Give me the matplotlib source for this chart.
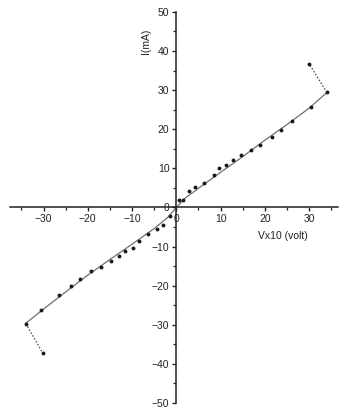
import matplotlib

matplotlib.use("Agg")
import matplotlib.pyplot as plt
from matplotlib.ticker import MultipleLocator

plt.rcParams["font.family"] = ["Liberation Sans", "DejaVu Sans"]

# measured points (V x10, I in mA)
pos_v = [0.7, 1.6, 2.9, 4.3, 6.3, 8.4, 9.7, 11.2, 12.7, 14.6, 16.9, 18.9,
         21.6, 23.6, 26.1, 30.3, 34.0]
pos_i = [1.8, 2.0, 4.1, 5.2, 6.3, 8.2, 10.2, 10.9, 12.2, 13.3, 14.8, 16.0,
         17.9, 19.7, 22.0, 25.8, 29.4]
neg_v = [-1.4, -3.1, -4.3, -6.3, -8.5, -9.8, -11.5, -13.0, -14.8, -17.0,
         -19.2, -21.8, -23.8, -26.4, -30.6, -34.0]
neg_i = [-2.2, -4.4, -5.5, -6.7, -8.5, -10.4, -11.2, -12.5, -13.6, -15.1,
         -16.3, -18.4, -20.1, -22.3, -26.1, -29.7]
# outlier points at the ends, joined by dotted lines
out_v = [30.0, -30.2]
out_i = [36.7, -37.2]

# fitted curve
fit_v = [-34, -30, -25, -20, -15, -10, -5, -2, 0, 2, 5, 10, 15, 20, 25, 30, 34]
fit_i = [-29.6, -26.0, -21.6, -17.3, -13.3, -9.4, -5.4, -2.6, 0.0, 2.4, 4.9,
         9.0, 13.0, 17.2, 21.2, 25.4, 29.4]

fig = plt.figure(figsize=(3.4, 4.11), dpi=100)
ax = fig.add_axes([0.029, 0.0195, 0.965, 0.9515])

ax.plot(fit_v, fit_i, color="#707070", lw=0.9)
ax.plot([pos_v[-1], out_v[0]], [pos_i[-1], out_i[0]], color="#444444", lw=0.9, ls=(0, (1.2, 1.5)))
ax.plot([neg_v[-1], out_v[1]], [neg_i[-1], out_i[1]], color="#444444", lw=0.9, ls=(0, (1.2, 1.5)))
ax.plot(pos_v + neg_v + out_v, pos_i + neg_i + out_i, ls="none", marker="o",
        ms=1.8, color="#1a1a1a")

ax.set_xlim(-37.6, 36.5)
ax.set_ylim(-50, 50)

for side in ("top", "right"):
    ax.spines[side].set_visible(False)
ax.spines["left"].set_position(("data", 0))
ax.spines["bottom"].set_position(("data", 0))
ax.spines["left"].set_bounds(-50, 50)
for sp in ("left", "bottom"):
    ax.spines[sp].set_linewidth(1.1)
    ax.spines[sp].set_color("#222222")

ax.xaxis.set_major_locator(MultipleLocator(10))
ax.xaxis.set_minor_locator(MultipleLocator(5))
ax.yaxis.set_major_locator(MultipleLocator(10))
ax.yaxis.set_minor_locator(MultipleLocator(5))
ax.tick_params(which="major", length=3, width=1.0, labelsize=7.5, colors="#222222", pad=2)
ax.tick_params(which="minor", length=2, width=0.9, colors="#222222")

ax.text(-6.8, 42.5, "I(mA)", rotation=90, fontsize=7.5, ha="center", va="center", color="#222222")
ax.text(24.0, -7.2, "Vx10 (volt)", fontsize=7.5, ha="center", va="center", color="#222222")

fig.savefig("out.png", dpi=100)
